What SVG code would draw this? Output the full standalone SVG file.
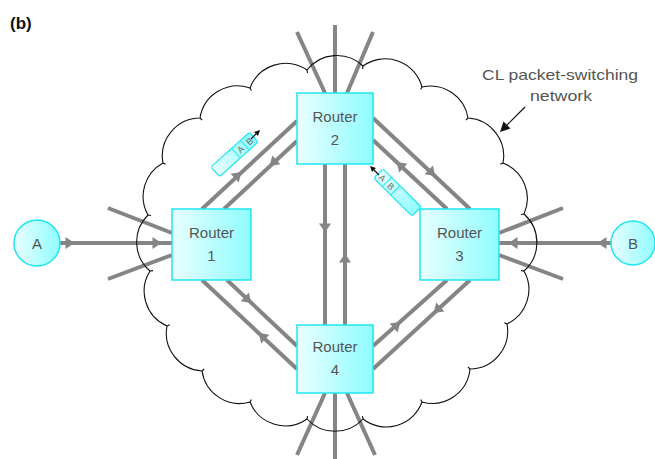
<svg xmlns="http://www.w3.org/2000/svg" xmlns:xlink="http://www.w3.org/1999/xlink" width="655" height="459" viewBox="0 0 655 459">
  <defs>
    <linearGradient id="cyanFill" x1="0" y1="0" x2="1" y2="0">
      <stop offset="0" stop-color="#e9ffff"/>
      <stop offset="1" stop-color="#8ffcff"/>
    </linearGradient>
    <path id="ah" d="M4.5,0 L-4.5,-6 L-4.5,6 Z"/>
    <style>
      .link { stroke: #858585; stroke-width: 4; fill: none; }
      .ahd { fill: #858585; }
      .box { fill: url(#cyanFill); stroke: #1fe6f2; stroke-width: 1.5; }
      .lbl { font-family: "Liberation Sans", Arial, sans-serif; font-size: 15px; fill: #555; text-anchor: middle; }
      .pkt { fill: url(#cyanFill); stroke: #1fe6f2; stroke-width: 1.2; }
      .pktdiv { stroke: #1fe6f2; stroke-width: 1; }
      .plbl { font-family: "Liberation Sans", Arial, sans-serif; font-size: 9px; fill: #666; text-anchor: middle; }
      .cloud { fill: none; stroke: #111; stroke-width: 1.1; }
    </style>
  </defs>

  <!-- panel label -->
  <text x="10" y="29" font-family="Liberation Sans, Arial, sans-serif" font-size="17" font-weight="bold" fill="#111">(b)</text>

  <!-- connectors: links between hosts and routers, plus links leaving the network -->
  <g id="connectors">
    <!-- A to Router 1 -->
    <line class="link" x1="60" y1="243" x2="172" y2="243"/>
    <!-- Router 3 to B -->
    <line class="link" x1="499" y1="243" x2="611" y2="243"/>
    <!-- Router 1 - Router 2 -->
    <line class="link" x1="202" y1="209" x2="297" y2="121"/>
    <line class="link" x1="224" y1="209" x2="297" y2="141"/>
    <!-- Router 2 - Router 3 -->
    <line class="link" x1="373" y1="118" x2="470" y2="209"/>
    <line class="link" x1="373" y1="140" x2="447" y2="209"/>
    <!-- Router 2 - Router 4 -->
    <line class="link" x1="325" y1="164" x2="325" y2="325"/>
    <line class="link" x1="345" y1="164" x2="345" y2="325"/>
    <!-- Router 1 - Router 4 -->
    <line class="link" x1="202" y1="280" x2="297" y2="369"/>
    <line class="link" x1="227" y1="280" x2="297" y2="346"/>
    <!-- Router 4 - Router 3 -->
    <line class="link" x1="373" y1="346" x2="447" y2="280"/>
    <line class="link" x1="373" y1="369" x2="470" y2="280"/>
    <!-- links leaving the network -->
    <line class="link" x1="335" y1="93" x2="335" y2="25"/>
    <line class="link" x1="325" y1="93" x2="297" y2="32"/>
    <line class="link" x1="347" y1="93" x2="373" y2="32"/>
    <line class="link" x1="335" y1="393" x2="335" y2="459"/>
    <line class="link" x1="325" y1="393" x2="297" y2="455"/>
    <line class="link" x1="347" y1="393" x2="375" y2="455"/>
    <line class="link" x1="172" y1="233" x2="108" y2="208"/>
    <line class="link" x1="172" y1="255" x2="108" y2="279"/>
    <line class="link" x1="499" y1="233" x2="563" y2="208"/>
    <line class="link" x1="499" y1="255" x2="563" y2="279"/>

    <!-- direction heads -->
    <use href="#ah" class="ahd" transform="translate(70,243)"/>
    <use href="#ah" class="ahd" transform="translate(157,243)"/>
    <use href="#ah" class="ahd" transform="translate(513,243) rotate(180)"/>
    <use href="#ah" class="ahd" transform="translate(602,243) rotate(180)"/>
    <use href="#ah" class="ahd" transform="translate(238,175) rotate(-42.8)"/>
    <use href="#ah" class="ahd" transform="translate(273,163) rotate(137)"/>
    <use href="#ah" class="ahd" transform="translate(432,173) rotate(43.2)"/>
    <use href="#ah" class="ahd" transform="translate(400,165) rotate(-137)"/>
    <use href="#ah" class="ahd" transform="translate(325,228) rotate(90)"/>
    <use href="#ah" class="ahd" transform="translate(345,258) rotate(-90)"/>
    <use href="#ah" class="ahd" transform="translate(248,300) rotate(43.3)"/>
    <use href="#ah" class="ahd" transform="translate(262,336) rotate(-136.9)"/>
    <use href="#ah" class="ahd" transform="translate(397,325) rotate(-41.7)"/>
    <use href="#ah" class="ahd" transform="translate(437,310) rotate(137.5)"/>
  </g>

  <!-- network cloud outline -->
  <g id="cloud">
    <path class="cloud" d="M307,70 A38,38 0 0 1 363,66 A38,38 0 0 1 422,87 A38,38 0 0 1 468,118 A38,38 0 0 1 503,163 A38,38 0 0 1 524,214 A38,38 0 0 1 524,271 A38,38 0 0 1 507,324 A38,38 0 0 1 470,369 A38,38 0 0 1 422,402 A38,38 0 0 1 363,419 A38,38 0 0 1 307,419 A38,38 0 0 1 250,402 A38,38 0 0 1 202,371 A38,38 0 0 1 167,326 A38,38 0 0 1 150,271 A38,38 0 0 1 148,215 A38,38 0 0 1 163,163 A38,38 0 0 1 200,118 A38,38 0 0 1 250,88 A38,38 0 0 1 307,70 Z"/>
    <path class="cloud" d="M307,70 l0.5,3 M363,66 l-0.5,3 M422,87 l-1.4,2.6 M468,118 l-2.1,2.1 M503,163 l-2.7,1.3 M524,214 l-3,0.5 M524,271 l-3,-0.4 M507,324 l-2.7,-1.3 M470,369 l-2.2,-2.1 M422,402 l-1.4,-2.6 M363,419 l-0.5,-3 M307,419 l0.5,-3 M250,402 l1.4,-2.6 M202,371 l2.2,-2.1 M167,326 l2.7,-1.3 M150,271 l3,-0.4 M148,215 l3,0.5 M163,163 l2.7,1.3 M200,118 l2.2,2.1 M250,88 l1.4,2.6"/>
  </g>

  <!-- network label with pointer -->
  <g id="network-label">
    <text class="lbl" x="560" y="80" textLength="156" lengthAdjust="spacingAndGlyphs">CL packet-switching</text>
    <text class="lbl" x="561" y="101" textLength="62" lengthAdjust="spacingAndGlyphs">network</text>
    <line x1="525" y1="107" x2="506" y2="126" stroke="#111" stroke-width="1.2"/>
    <path d="M500,132 L503.5,121.5 L510.5,128.5 Z" fill="#111"/>
  </g>

  <!-- hosts -->
  <g id="host-A">
    <circle class="box" cx="37" cy="243" r="23"/>
    <text class="lbl" x="37" y="249">A</text>
  </g>
  <g id="host-B">
    <circle class="box" cx="633" cy="243" r="22"/>
    <text class="lbl" x="633" y="249">B</text>
  </g>

  <!-- routers -->
  <g id="router-1">
    <rect class="box" x="172" y="209" width="79" height="71"/>
    <text class="lbl" x="211.5" y="238">Router</text>
    <text class="lbl" x="211.5" y="261">1</text>
  </g>
  <g id="router-2">
    <rect class="box" x="297" y="93" width="76" height="71"/>
    <text class="lbl" x="335" y="122">Router</text>
    <text class="lbl" x="335" y="145">2</text>
  </g>
  <g id="router-3">
    <rect class="box" x="420" y="209" width="79" height="71"/>
    <text class="lbl" x="459.5" y="238">Router</text>
    <text class="lbl" x="459.5" y="261">3</text>
  </g>
  <g id="router-4">
    <rect class="box" x="297" y="325" width="76" height="68"/>
    <text class="lbl" x="335" y="352">Router</text>
    <text class="lbl" x="335" y="375">4</text>
  </g>

  <!-- packets in transit -->
  <g id="packet-1" transform="translate(234.5,154.5) rotate(-42)">
    <rect class="pkt" x="-26" y="-6.5" width="52" height="13" rx="2.5"/>
    <line class="pktdiv" x1="2" y1="-6.5" x2="2" y2="6.5"/>
    <line class="pktdiv" x1="14" y1="-6.5" x2="14" y2="6.5"/>
    <text class="plbl" x="8" y="3.5">A</text>
    <text class="plbl" x="20" y="3.5">B</text>
  </g>
  <g id="packet-1-motion">
    <line x1="251" y1="139" x2="256" y2="134" stroke="#111" stroke-width="1.2"/>
    <path d="M260,130 L254,132 L258,136 Z" fill="#111"/>
  </g>
  <g id="packet-2" transform="translate(397.5,192.5) rotate(45)">
    <rect class="pkt" x="-27" y="-6.5" width="54" height="13" rx="2.5"/>
    <line class="pktdiv" x1="-15" y1="-6.5" x2="-15" y2="6.5"/>
    <line class="pktdiv" x1="-3" y1="-6.5" x2="-3" y2="6.5"/>
    <text class="plbl" x="-21" y="3.5">A</text>
    <text class="plbl" x="-9" y="3.5">B</text>
  </g>
  <g id="packet-2-motion">
    <line x1="379" y1="175" x2="374" y2="170" stroke="#111" stroke-width="1.2"/>
    <path d="M370,166 L376,168 L372,172 Z" fill="#111"/>
  </g>
</svg>
